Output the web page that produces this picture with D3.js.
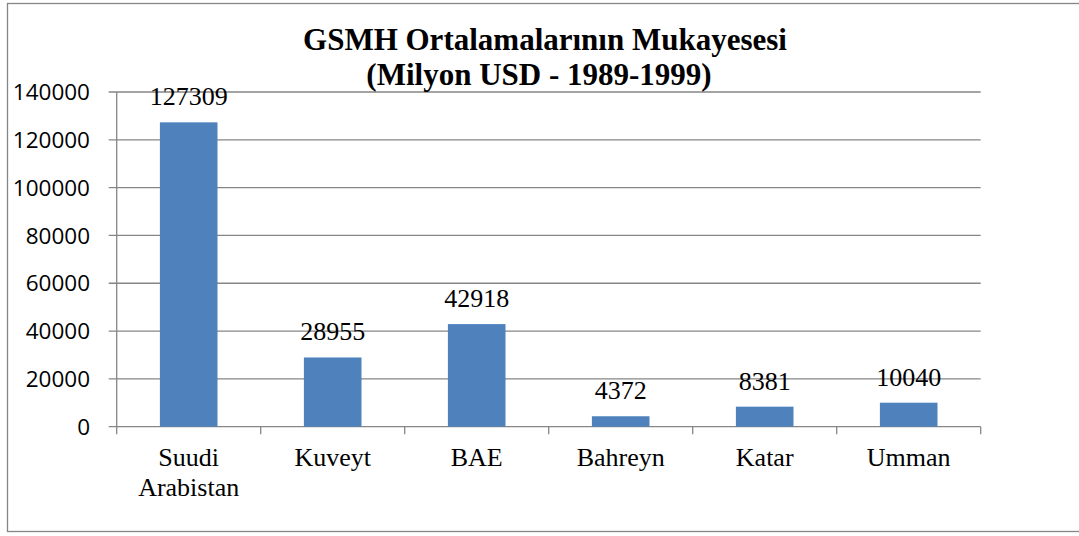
<!DOCTYPE html>
<html><head><meta charset="utf-8">
<script src="https://cdn.jsdelivr.net/npm/d3@7"></script>
<style>html,body{margin:0;padding:0;background:#fff;}svg{display:block;}
.serif{font-family:"Times New Roman","Liberation Serif","DejaVu Serif",serif;}
.sans{font-family:"Open Sans","Liberation Sans",sans-serif;}
</style>
</head><body>
<script>
const categories = [["Suudi","Arabistan"],["Kuveyt"],["BAE"],["Bahreyn"],["Katar"],["Umman"]];
const values = [127309, 28955, 42918, 4372, 8381, 10040];
const yTicks = [0, 20000, 40000, 60000, 80000, 100000, 120000, 140000];
const titleLines = ["GSMH Ortalamalarının Mukayesesi", "(Milyon USD - 1989-1999)"];

(function () {
const W = 1079, H = 536;
const svg = d3.select("body").append("svg").attr("width", W).attr("height", H);
const gray = "#868686";

svg.append("rect").attr("x", 7.5).attr("y", 3.5).attr("width", 1080).attr("height", 528)
  .attr("fill", "#fff").attr("stroke", gray).attr("stroke-width", 1.3);

const pLeft = 116.7, pRight = 980.7, pTop = 92, pBottom = 426.7;
const x = d3.scaleBand().domain(d3.range(categories.length)).range([pLeft, pRight]).paddingInner(0.6).paddingOuter(0.3);
const xb = d3.scaleLinear().domain([0, categories.length]).range([pLeft, pRight]);
const y = d3.scaleLinear().domain([0, 140000]).range([pBottom, pTop]);

svg.append("g").selectAll("line").data(yTicks).join("line")
  .attr("x1", pLeft - 8).attr("x2", pRight).attr("y1", d => y(d)).attr("y2", d => y(d))
  .attr("stroke", gray).attr("stroke-width", 1.3);

svg.append("line").attr("x1", pLeft).attr("x2", pLeft).attr("y1", pTop).attr("y2", pBottom + 7.5)
  .attr("stroke", gray).attr("stroke-width", 1.3);
svg.append("g").selectAll("line").data(d3.range(1, categories.length + 1)).join("line")
  .attr("x1", d => xb(d)).attr("x2", d => xb(d)).attr("y1", pBottom).attr("y2", pBottom + 7.5)
  .attr("stroke", gray).attr("stroke-width", 1.3);

svg.append("g").attr("class", "sans").selectAll("text").data(yTicks).join("text")
  .attr("x", 90).attr("y", d => y(d)).attr("dy", "0.36em").attr("text-anchor", "end")
  .attr("font-size", 22.5).attr("fill", "#000")
  .text(d => d);

svg.append("g").selectAll("rect").data(values).join("rect")
  .attr("x", (d, i) => x(i)).attr("width", x.bandwidth())
  .attr("y", d => y(d)).attr("height", d => pBottom - y(d))
  .attr("fill", "#4F81BD");

svg.append("g").attr("class", "serif").selectAll("text").data(values).join("text")
  .attr("x", (d, i) => x(i) + x.bandwidth() / 2).attr("y", d => y(d) - 17)
  .attr("text-anchor", "middle")
  .attr("font-size", 26).attr("fill", "#000")
  .text(d => d);

const cl = svg.append("g").attr("class", "serif").selectAll("text").data(categories).join("text")
  .attr("text-anchor", "middle").attr("font-size", 26).attr("fill", "#000");
cl.selectAll("tspan").data((d, i) => d.map(s => ({s, i}))).join("tspan")
  .attr("x", d => x(d.i) + x.bandwidth() / 2)
  .attr("y", (d, j) => 466 + j * 30)
  .text(d => d.s);

svg.append("g").attr("class", "serif").selectAll("text").data(titleLines).join("text")
  .attr("x", (d, i) => i === 0 ? 545 : 539).attr("y", (d, i) => 50 + i * 35)
  .attr("text-anchor", "middle")
  .attr("font-size", 31).attr("font-weight", "bold").attr("fill", "#000")
  .text(d => d);
})();
</script>
</body></html>
